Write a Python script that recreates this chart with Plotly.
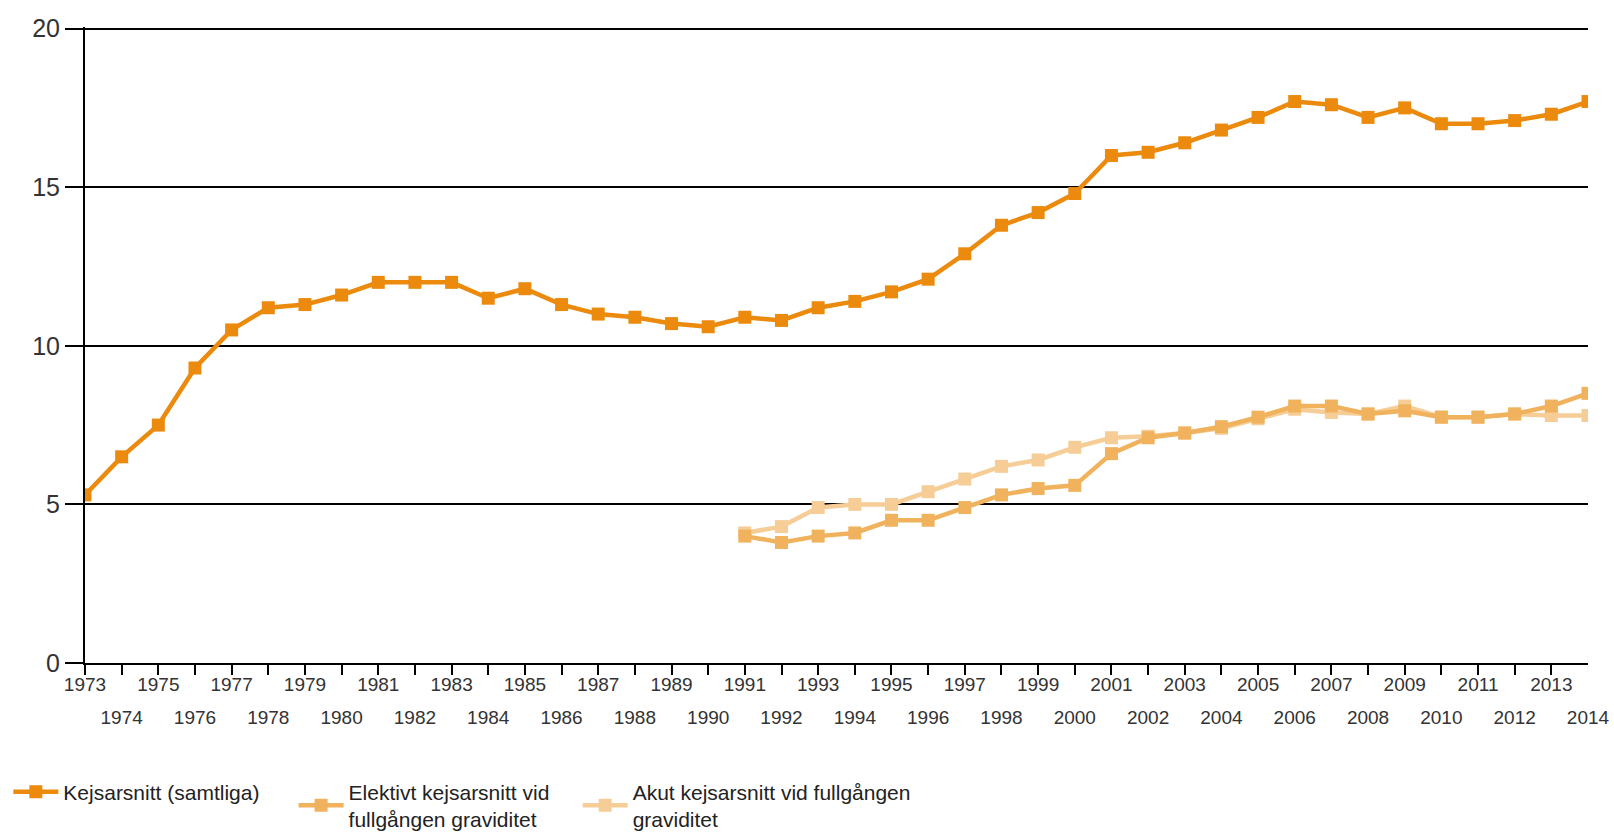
import plotly.graph_objects as go

years = list(range(1973, 2015))
total = [5.3, 6.5, 7.5, 9.3, 10.5, 11.2, 11.3, 11.6, 12.0, 12.0, 12.0, 11.5, 11.8, 11.3,
         11.0, 10.9, 10.7, 10.6, 10.9, 10.8, 11.2, 11.4, 11.7, 12.1, 12.9, 13.8, 14.2, 14.8,
         16.0, 16.1, 16.4, 16.8, 17.2, 17.7, 17.6, 17.2, 17.5, 17.0, 17.0, 17.1, 17.3, 17.7]
years_sub = list(range(1991, 2015))
elective = [4.0, 3.8, 4.0, 4.1, 4.5, 4.5, 4.9, 5.3, 5.5, 5.6, 6.6, 7.1, 7.25, 7.45, 7.75,
            8.1, 8.1, 7.85, 7.95, 7.75, 7.75, 7.85, 8.1, 8.5]
acute = [4.1, 4.3, 4.9, 5.0, 5.0, 5.4, 5.8, 6.2, 6.4, 6.8, 7.1, 7.15, 7.25, 7.4, 7.7,
         8.0, 7.9, 7.85, 8.1, 7.75, 7.75, 7.85, 7.8, 7.8]
names = ["Kejsarsnitt (samtliga)" + "&nbsp;" * 5,
         "Elektivt kejsarsnitt vid" + "&nbsp;" * 4 + "<br>fullgången graviditet",
         "Akut kejsarsnitt vid fullgången<br>graviditet"]
colors = ["#EB8A0C", "#F0B25C", "#F6CD96"]
y_ticks = [0, 5, 10, 15, 20]
tick_years = years[:-1]
even_years = [y for y in years if y % 2 == 0]
x_ticktext = [str(y) if y % 2 == 1 else "" for y in tick_years]

fig = go.Figure()
# helper (invisible) trace so the second label row axis is drawn
fig.add_trace(go.Scatter(x=years, y=total, xaxis="x2", yaxis="y", mode="lines",
                         line=dict(width=0), opacity=0, showlegend=False, hoverinfo="skip"))
for xs, ys, nm, c in [(years_sub, acute, names[2], colors[2]),
                      (years_sub, elective, names[1], colors[1]),
                      (years, total, names[0], colors[0])]:
    fig.add_trace(go.Scatter(x=xs, y=ys, name=nm, mode="lines+markers",
                             line=dict(color=c, width=4.5),
                             marker=dict(symbol="square", size=13, color=c)))

fig.update_layout(
    width=1614, height=835,
    margin=dict(l=85, r=26, t=27, b=172, autoexpand=False),
    plot_bgcolor="white", paper_bgcolor="white",
    font=dict(family="Liberation Sans, Arial, sans-serif", color="#333333"),
    showlegend=True,
    legend=dict(orientation="h", traceorder="reversed", x=-0.051, y=-0.1706,
                xanchor="left", yanchor="top", font=dict(size=21, color="#222222"),
                itemwidth=45, valign="middle"),
    xaxis=dict(range=[1973, 2014], tickvals=tick_years, ticktext=x_ticktext, tickangle=0,
               automargin=False, ticklabelstandoff=-7,
               showgrid=False, showline=True, linecolor="black", linewidth=2,
               ticks="outside", ticklen=10, tickwidth=2, tickcolor="black",
               tickfont=dict(size=19, color="#333333"), zeroline=False),
    xaxis2=dict(range=[1973, 2014], tickvals=even_years, ticktext=[str(y) for y in even_years],
                tickangle=0, overlaying="x", anchor="y", side="bottom", automargin=False,
                showgrid=False, showline=False, ticks="", ticklabelstandoff=41,
                tickfont=dict(size=19, color="#333333"), zeroline=False),
    yaxis=dict(range=[0, 20.05], tickvals=y_ticks, showgrid=True, gridcolor="black",
               automargin=False,
               gridwidth=1.5, showline=True, linecolor="black", linewidth=2,
               ticks="outside", ticklen=18, tickwidth=1.5, tickcolor="black",
               tickfont=dict(size=25, color="#333333"), zeroline=False),
)
fig.write_html("out.html", config={"displayModeBar": False},
               post_script="document.body.style.margin='0';document.body.style.overflow='hidden';")
